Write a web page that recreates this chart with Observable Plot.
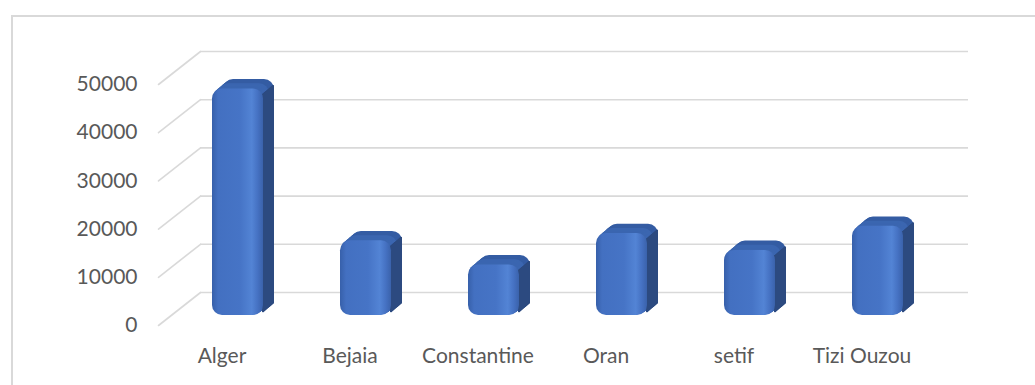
<!DOCTYPE html>
<html>
<head>
<meta charset="utf-8">
<script src="https://cdn.jsdelivr.net/npm/d3@7"></script>
<script src="https://cdn.jsdelivr.net/npm/@observablehq/plot@0.6"></script>
<style>
  html, body { margin: 0; padding: 0; background: #fff; overflow: hidden; }
  #wrap { position: relative; width: 1035px; height: 385px; }
  #border { position: absolute; left: 11px; top: 15px; width: 1030px; height: 400px;
            border-top: 2px solid #d9d9d9; border-left: 2px solid #d9d9d9; box-sizing: border-box; }
  #chart { position: absolute; left: 0; top: 0; }
</style>
</head>
<body>
<div id="wrap"><div id="border"></div><div id="chart"></div></div>
<script>
const categories = ["Alger", "Bejaia", "Constantine", "Oran", "setif", "Tizi Ouzou"];
const values = [47000, 15500, 10500, 17000, 13500, 18500];
const yTicks = [0, 10000, 20000, 30000, 40000, 50000];

const data = categories.map((c, i) => ({category: c, value: values[i]}));

// style constants for the 3D look
const faceDx = 16, faceDy = -10;        // bar front face offset (mid depth)
const depthSteps = d3.range(11, 0, -1); // extrusion steps (pixels)
const stepDy = -0.85;
const wallDx = 42, wallDy = -33;        // back wall offset
const font = "Lato, 'Open Sans', sans-serif";

const lineShape = {
  draw(context, l) { context.moveTo(0, 0); context.lineTo(0, -l); }
};

const lidMarks = depthSteps.map(k => Plot.barY(data, {
  x: "category", y: "value",
  dx: faceDx + k, dy: faceDy + stepDy * k,
  fill: k > 6 ? "#345c a3".replace(" ", "") : "#3b66b0", rx: 10
}));
const sideMarks = depthSteps.map(k => Plot.barY(data, {
  x: "category", y: "value",
  dx: faceDx + k, dy: faceDy + stepDy * k,
  insetLeft: 49, insetTop: 6, insetBottom: 2,
  fill: "#2c4a80"
}));

const chart = Plot.plot({
  width: 1035,
  height: 385,
  marginLeft: 158,
  marginRight: 109,
  marginTop: 84,
  marginBottom: 60,
  style: {fontFamily: font, background: "transparent", overflow: "visible"},
  x: {domain: categories, paddingInner: 0.6, paddingOuter: 0.3, axis: null},
  y: {domain: [0, 50000], axis: null},
  marks: [
    // back wall gridlines
    Plot.ruleY(yTicks, {y: d => d, dx: wallDx, dy: wallDy, stroke: "#d9d9d9", strokeWidth: 1.6}),
    // side wall diagonals
    Plot.vector(yTicks, {y: d => d, frameAnchor: "left", length: Math.hypot(wallDx, wallDy),
      rotate: Math.atan2(wallDx, -wallDy) * 180 / Math.PI, anchor: "start",
      shape: lineShape, stroke: "#d9d9d9", strokeWidth: 1.6}),
    ...lidMarks,
    ...sideMarks,
    Plot.barY(data, {x: "category", y: "value", dx: faceDx, dy: faceDy, fill: "url(#frontGrad)", rx: 10}),
    Plot.axisY({ticks: yTicks, tickSize: 0, tickPadding: 21, fontSize: 21, fill: "#595959", label: null,
      tickFormat: d => String(d)}),
    Plot.axisX({tickSize: 0, tickPadding: 23, fontSize: 21, fill: "#595959", label: null})
  ]
});

// gradient definitions for the bar faces
const ns = "http://www.w3.org/2000/svg";
const defs = document.createElementNS(ns, "defs");
defs.innerHTML = `
  <linearGradient id="frontGrad" x1="0" y1="0" x2="1" y2="0">
    <stop offset="0" stop-color="#3760aa"/>
    <stop offset="0.12" stop-color="#4370c1"/>
    <stop offset="0.55" stop-color="#4674c6"/>
    <stop offset="0.78" stop-color="#5384d5"/>
    <stop offset="0.9" stop-color="#4571c2"/>
    <stop offset="1" stop-color="#3a62ab"/>
  </linearGradient>`;
chart.insertBefore(defs, chart.firstChild);
document.getElementById("chart").appendChild(chart);
</script>
</body>
</html>
